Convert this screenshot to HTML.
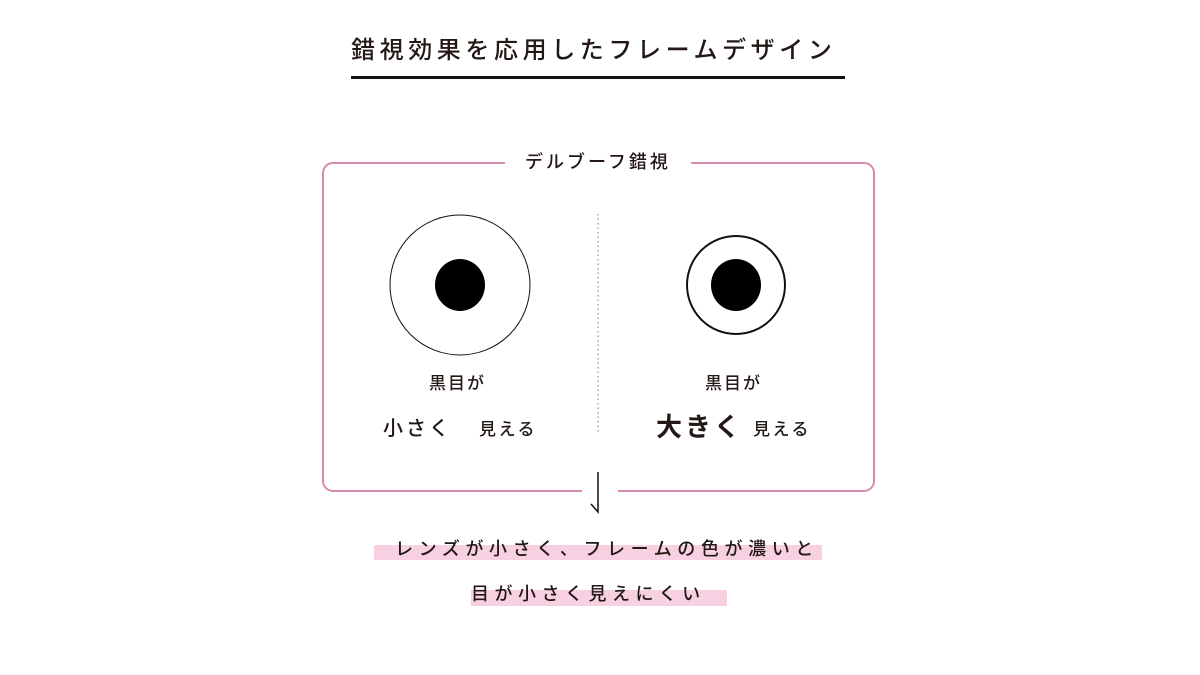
<!DOCTYPE html>
<html><head><meta charset="utf-8"><style>
body{margin:0;width:1200px;height:675px;background:#fff;position:relative;overflow:hidden;font-family:"Liberation Sans","Noto Sans CJK JP",sans-serif;color:#231815}
.t{position:absolute;white-space:nowrap;line-height:1;font-weight:500}
</style></head><body>
<div class="t" style="left:351px;top:39px;font-size:24px;letter-spacing:4.6px">錯視効果を応用したフレームデザイン</div>
<div style="position:absolute;left:351px;top:76px;width:494px;height:3px;background:#111"></div>
<svg width="1200" height="675" style="position:absolute;left:0;top:0">
<path d="M505 163 H333 a10 10 0 0 0 -10 10 V481 a10 10 0 0 0 10 10 H582 M618 491 H864 a10 10 0 0 0 10 -10 V173 a10 10 0 0 0 -10 -10 H691" fill="none" stroke="#d68aae" stroke-width="2"/>
<line x1="598" y1="214" x2="598" y2="434" stroke="#d68aae" stroke-width="1.5" stroke-dasharray="1.5 3"/>
<circle cx="460" cy="285" r="70" fill="none" stroke="#111" stroke-width="1"/>
<ellipse cx="460" cy="285" rx="25" ry="26" fill="#000"/>
<circle cx="736" cy="285" r="49" fill="none" stroke="#111" stroke-width="2"/>
<ellipse cx="736" cy="285" rx="25" ry="26" fill="#000"/>
<path d="M598 472 V512 L591 504" fill="none" stroke="#111" stroke-width="1.5"/>
<rect x="374" y="545" width="448" height="15" fill="#f7d0e1"/>
<rect x="471" y="590" width="256" height="16" fill="#f7d0e1"/>
</svg>
<div class="t" style="left:525px;top:153px;font-size:18px;letter-spacing:3px">デルブーフ錯視</div>
<div class="t" style="left:429px;top:375px;font-size:17px;letter-spacing:2px">黒目が</div>
<div class="t" style="left:705px;top:375px;font-size:17px;letter-spacing:2px">黒目が</div>
<div class="t" style="left:383px;top:419px;font-size:20px;letter-spacing:3px">小さく</div>
<div class="t" style="left:479px;top:421px;font-size:17px;letter-spacing:2.5px">見える</div>
<div class="t" style="left:656px;top:414px;font-size:26px;letter-spacing:3px;font-weight:bold">大きく</div>
<div class="t" style="left:753px;top:421px;font-size:17px;letter-spacing:2.5px">見える</div>
<div class="t" style="left:395px;top:540px;font-size:18px;letter-spacing:5.6px">レンズが小さく、フレームの色が濃いと</div>
<div class="t" style="left:471px;top:585px;font-size:18px;letter-spacing:5.5px">目が小さく見えにくい</div>
</body></html>
